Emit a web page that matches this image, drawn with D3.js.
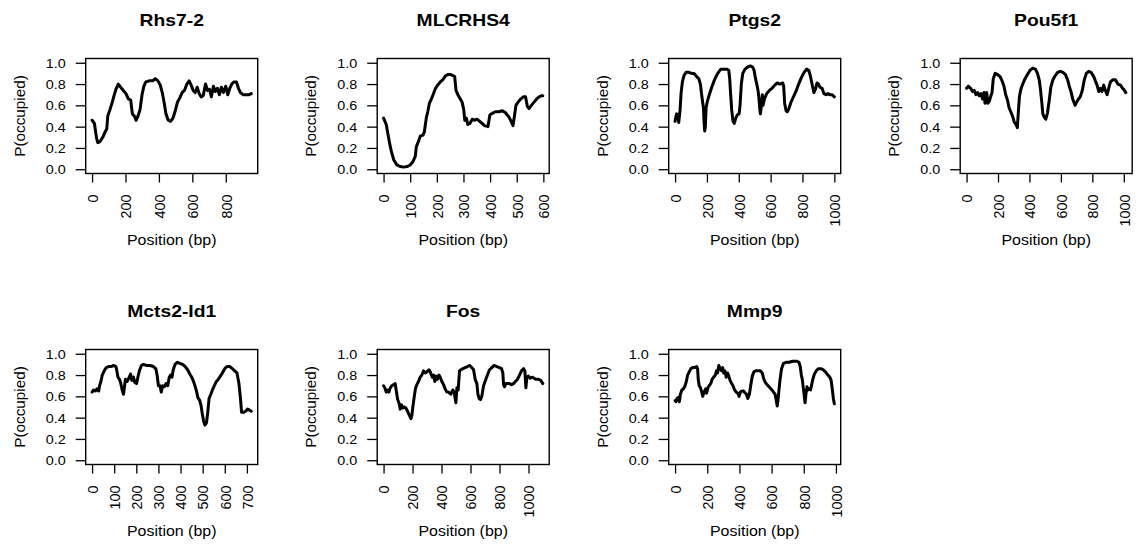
<!DOCTYPE html>
<html>
<head>
<meta charset="utf-8">
<script src="https://cdn.jsdelivr.net/npm/d3@7"></script>
<style>
  html, body { margin: 0; padding: 0; background: #fff; }
  svg { display: block; font-family: "Liberation Sans", Arial, Helvetica, sans-serif; }
</style>
</head>
<body>
<main></main>
<script>
// * values: [position (bp), P(occupied)]
var genes = ['Rhs7-2', 'MLCRHS4', 'Ptgs2', 'Pou5f1', 'Mcts2-Id1', 'Fos', 'Mmp9'];

var rhs72 = [[0,0.46],[14,0.43],[26,0.30],[34,0.25],[48,0.26],[64,0.30],[78,0.35],[88,0.38],[94,0.50],[107,0.56],[121,0.63],[133,0.70],[145,0.76],[157,0.80],[171,0.77],[187,0.74],[203,0.71],[217,0.66],[231,0.65],[241,0.52],[253,0.50],[263,0.46],[275,0.50],[287,0.56],[299,0.70],[310,0.78],[322,0.82],[342,0.83],[362,0.83],[378,0.85],[394,0.83],[408,0.79],[420,0.72],[432,0.62],[442,0.52],[456,0.46],[470,0.45],[484,0.48],[498,0.55],[511,0.63],[525,0.67],[539,0.72],[553,0.74],[567,0.80],[581,0.83],[593,0.79],[605,0.74],[617,0.72],[629,0.77],[641,0.71],[653,0.68],[665,0.69],[679,0.80],[691,0.74],[703,0.75],[714,0.68],[726,0.78],[738,0.73],[750,0.76],[762,0.70],[774,0.77],[786,0.72],[800,0.78],[812,0.70],[824,0.76],[836,0.80],[848,0.82],[864,0.82],[876,0.76],[888,0.72],[903,0.70],[923,0.70],[940,0.70],[953,0.71]];

var mlcrhs4 = [[0,0.48],[10,0.42],[15,0.35],[23,0.24],[29,0.17],[38,0.09],[50,0.04],[63,0.025],[75,0.02],[88,0.025],[100,0.04],[110,0.07],[119,0.12],[123,0.21],[132,0.27],[138,0.31],[148,0.32],[153,0.35],[161,0.49],[166,0.54],[172,0.62],[178,0.65],[186,0.70],[195,0.76],[203,0.79],[213,0.82],[222,0.84],[232,0.875],[241,0.89],[251,0.89],[260,0.88],[267,0.87],[272,0.74],[279,0.70],[286,0.67],[295,0.63],[301,0.56],[305,0.46],[311,0.48],[316,0.42],[324,0.43],[333,0.47],[341,0.46],[351,0.47],[361,0.45],[370,0.43],[379,0.41],[392,0.40],[399,0.51],[408,0.525],[420,0.54],[433,0.54],[446,0.55],[458,0.53],[471,0.49],[479,0.45],[486,0.41],[492,0.51],[497,0.60],[505,0.63],[515,0.66],[525,0.68],[533,0.68],[540,0.59],[546,0.57],[555,0.60],[565,0.63],[575,0.66],[584,0.68],[592,0.69],[598,0.69]];

var ptgs2 = [[0,0.45],[6,0.50],[10,0.52],[17,0.51],[23,0.44],[31,0.55],[38,0.72],[46,0.82],[56,0.88],[69,0.91],[86,0.91],[105,0.90],[119,0.90],[136,0.87],[149,0.85],[159,0.80],[167,0.70],[174,0.62],[178,0.58],[182,0.45],[186,0.36],[190,0.40],[195,0.58],[203,0.64],[215,0.70],[230,0.77],[245,0.83],[257,0.87],[272,0.91],[287,0.94],[308,0.94],[324,0.94],[337,0.93],[343,0.85],[349,0.70],[356,0.55],[364,0.45],[372,0.43],[381,0.48],[391,0.51],[402,0.52],[408,0.60],[416,0.80],[425,0.90],[439,0.94],[456,0.96],[473,0.97],[487,0.96],[496,0.93],[504,0.86],[513,0.80],[521,0.74],[527,0.66],[531,0.58],[536,0.52],[542,0.60],[548,0.70],[552,0.60],[561,0.66],[575,0.71],[592,0.74],[609,0.76],[626,0.79],[642,0.81],[659,0.80],[676,0.81],[682,0.78],[688,0.62],[697,0.55],[705,0.54],[715,0.57],[728,0.63],[743,0.68],[759,0.73],[776,0.80],[793,0.86],[810,0.91],[826,0.94],[839,0.93],[849,0.88],[860,0.80],[872,0.72],[883,0.76],[891,0.81],[900,0.80],[910,0.77],[923,0.76],[935,0.71],[948,0.70],[960,0.71],[973,0.70],[985,0.70],[1000,0.68]];

var pou5f1 = [[0,0.76],[11,0.78],[26,0.76],[38,0.73],[49,0.74],[60,0.70],[70,0.72],[81,0.69],[92,0.71],[102,0.66],[111,0.72],[117,0.62],[128,0.72],[136,0.62],[145,0.64],[153,0.68],[162,0.72],[170,0.85],[181,0.90],[196,0.89],[213,0.87],[226,0.83],[238,0.78],[249,0.70],[260,0.65],[270,0.58],[281,0.54],[292,0.50],[304,0.44],[315,0.42],[323,0.39],[330,0.55],[336,0.68],[345,0.75],[357,0.80],[372,0.85],[387,0.89],[404,0.93],[421,0.95],[438,0.94],[451,0.90],[462,0.84],[470,0.75],[479,0.62],[485,0.52],[494,0.49],[504,0.47],[515,0.53],[526,0.65],[536,0.77],[549,0.84],[564,0.88],[579,0.91],[596,0.92],[613,0.91],[628,0.89],[643,0.84],[653,0.78],[664,0.73],[675,0.66],[690,0.60],[700,0.63],[712,0.66],[723,0.68],[736,0.74],[749,0.84],[762,0.90],[777,0.92],[792,0.91],[809,0.87],[819,0.83],[830,0.79],[841,0.73],[851,0.76],[862,0.73],[872,0.79],[883,0.74],[894,0.70],[904,0.76],[915,0.82],[930,0.84],[947,0.84],[962,0.80],[979,0.79],[992,0.76],[1000,0.75],[1013,0.72]];

var mcts2id1 = [[0,0.64],[7,0.66],[15,0.65],[22,0.67],[30,0.65],[34,0.70],[40,0.74],[46,0.80],[55,0.84],[64,0.87],[75,0.88],[87,0.88],[97,0.89],[108,0.88],[112,0.84],[117,0.78],[124,0.76],[130,0.72],[136,0.66],[142,0.62],[147,0.70],[151,0.76],[159,0.74],[166,0.77],[174,0.81],[180,0.75],[187,0.78],[193,0.73],[201,0.72],[207,0.78],[214,0.84],[223,0.89],[232,0.90],[247,0.89],[262,0.89],[277,0.88],[288,0.86],[294,0.80],[300,0.70],[307,0.70],[313,0.64],[319,0.70],[327,0.69],[334,0.72],[342,0.70],[349,0.78],[355,0.80],[361,0.78],[367,0.85],[375,0.90],[385,0.92],[397,0.91],[409,0.90],[421,0.88],[432,0.85],[442,0.81],[453,0.77],[462,0.72],[472,0.65],[478,0.59],[487,0.56],[493,0.51],[498,0.44],[504,0.37],[510,0.33],[517,0.35],[523,0.45],[529,0.58],[537,0.62],[544,0.66],[553,0.70],[562,0.74],[571,0.76],[580,0.79],[589,0.82],[600,0.86],[610,0.88],[622,0.88],[634,0.86],[645,0.84],[655,0.82],[664,0.72],[670,0.60],[676,0.45],[685,0.45],[694,0.46],[703,0.48],[712,0.47],[720,0.46]];

var fos = [[0,0.70],[9,0.68],[18,0.64],[28,0.66],[37,0.64],[46,0.68],[57,0.70],[69,0.71],[80,0.72],[87,0.66],[97,0.57],[106,0.54],[115,0.48],[124,0.52],[133,0.49],[143,0.50],[154,0.49],[166,0.46],[175,0.43],[189,0.39],[195,0.42],[202,0.50],[212,0.60],[221,0.68],[230,0.71],[241,0.74],[253,0.78],[264,0.80],[276,0.84],[287,0.82],[299,0.83],[313,0.85],[322,0.83],[336,0.78],[345,0.80],[354,0.74],[363,0.79],[372,0.76],[382,0.80],[391,0.78],[402,0.74],[414,0.71],[425,0.67],[437,0.64],[448,0.64],[464,0.62],[478,0.66],[487,0.64],[499,0.54],[506,0.68],[515,0.66],[524,0.84],[533,0.85],[547,0.86],[563,0.87],[579,0.88],[593,0.89],[609,0.87],[621,0.85],[632,0.76],[644,0.72],[651,0.62],[660,0.58],[669,0.57],[678,0.60],[690,0.70],[703,0.75],[717,0.80],[731,0.85],[747,0.87],[763,0.89],[782,0.88],[800,0.87],[814,0.86],[823,0.82],[828,0.71],[834,0.69],[844,0.72],[855,0.72],[869,0.72],[883,0.71],[897,0.72],[910,0.74],[924,0.76],[938,0.80],[952,0.84],[966,0.86],[975,0.84],[982,0.68],[989,0.78],[1000,0.79],[1012,0.77],[1025,0.78],[1039,0.77],[1053,0.76],[1069,0.76],[1085,0.75],[1099,0.72]];

var mmp9 = [[0,0.56],[6,0.55],[12,0.58],[21,0.59],[27,0.55],[33,0.62],[42,0.66],[52,0.67],[62,0.70],[70,0.74],[78,0.80],[88,0.83],[98,0.86],[110,0.87],[122,0.87],[134,0.88],[140,0.86],[144,0.76],[150,0.70],[158,0.68],[166,0.64],[172,0.60],[180,0.64],[190,0.67],[196,0.63],[204,0.68],[212,0.70],[222,0.72],[230,0.76],[240,0.78],[250,0.80],[258,0.84],[264,0.82],[272,0.89],[280,0.86],[288,0.84],[296,0.87],[302,0.82],[310,0.84],[318,0.78],[326,0.82],[334,0.79],[342,0.75],[352,0.72],[360,0.70],[370,0.66],[380,0.64],[390,0.63],[398,0.60],[406,0.64],[416,0.65],[426,0.65],[436,0.63],[444,0.62],[452,0.58],[462,0.62],[470,0.70],[480,0.79],[490,0.83],[502,0.84],[516,0.84],[530,0.84],[542,0.82],[550,0.77],[558,0.74],[566,0.72],[578,0.70],[590,0.68],[602,0.66],[612,0.64],[622,0.62],[628,0.57],[635,0.51],[641,0.58],[646,0.66],[652,0.75],[662,0.86],[674,0.91],[690,0.92],[710,0.92],[730,0.93],[756,0.93],[770,0.92],[778,0.88],[785,0.80],[791,0.76],[797,0.68],[802,0.62],[808,0.54],[814,0.63],[820,0.69],[826,0.66],[834,0.67],[842,0.66],[848,0.70],[856,0.76],[866,0.81],[878,0.84],[890,0.86],[905,0.86],[920,0.85],[935,0.83],[950,0.80],[962,0.78],[970,0.75],[978,0.66],[984,0.58],[990,0.53]];

var series = [rhs72, mlcrhs4, ptgs2, pou5f1, mcts2id1, fos, mmp9];

var xTicks = [
  [0, 200, 400, 600, 800],
  [0, 100, 200, 300, 400, 500, 600],
  [0, 200, 400, 600, 800, 1000],
  [0, 200, 400, 600, 800, 1000],
  [0, 100, 200, 300, 400, 500, 600, 700],
  [0, 200, 400, 600, 800, 1000],
  [0, 200, 400, 600, 800, 1000]
];
var yTicks = [0, 0.2, 0.4, 0.6, 0.8, 1.0];

(function draw() {
  var svg = d3.select('main').append('svg')
    .attr('width', 1136).attr('height', 546)
    .attr('viewBox', '0 0 1136 546');

  // plot region layout (R-like par(mfrow = c(2, 4)))
  var boxW = 172, boxH = 115;
  var left0 = 85.7, top0 = 58.5, pitchX = 291.5, pitchY = 291;

  genes.forEach(function (gene, i) {
    var col = i % 4, row = Math.floor(i / 4);
    var g = svg.append('g')
      .attr('transform', 'translate(' + (left0 + col * pitchX) + ',' + (top0 + row * pitchY) + ')');

    var data = series[i];
    var ext = d3.extent(data, function (d) { return d[0]; });
    var pad = (ext[1] - ext[0]) * 0.04; // * R's default 4% axis extension
    var x = d3.scaleLinear().domain([ext[0] - pad, ext[1] + pad]).range([0, boxW]);
    var y = d3.scaleLinear().domain([-0.04, 1.04]).range([boxH, 0]);

    // y axis
    var ya = g.append('g').attr('class', 'yaxis')
      .call(d3.axisLeft(y).tickValues(yTicks).tickSize(10).tickPadding(10).tickSizeOuter(0)
        .tickFormat(d3.format('.1f')));
    ya.select('.domain').remove();
    ya.selectAll('line').attr('stroke', '#000').attr('stroke-width', 1.3);
    ya.selectAll('text')
      .attr('fill', '#000').attr('font-size', 12.5).attr('dy', '0.36em')
      .each(function () {
        var t = d3.select(this), tx = +t.attr('x');
        t.attr('x', 0).attr('transform', 'translate(' + tx + ',0) scale(1.15,1)');
      });

    // x axis, labels perpendicular (las = 2)
    var xa = g.append('g').attr('class', 'xaxis')
      .attr('transform', 'translate(0,' + boxH + ')')
      .call(d3.axisBottom(x).tickValues(xTicks[i]).tickSize(9).tickSizeOuter(0)
        .tickFormat(d3.format('d')));
    xa.select('.domain').remove();
    xa.selectAll('line').attr('stroke', '#000').attr('stroke-width', 1.3);
    xa.selectAll('text')
      .attr('fill', '#000').attr('font-size', 14.4)
      .attr('text-anchor', 'end')
      .attr('dy', null)
      .attr('x', -21).attr('y', 5.3)
      .attr('transform', 'rotate(-90)');

    // the curve
    var line = d3.line()
      .x(function (d) { return x(d[0]); })
      .y(function (d) { return y(d[1]); });
    g.append('path').datum(data)
      .attr('d', line)
      .attr('fill', 'none').attr('stroke', '#000')
      .attr('stroke-width', 3).attr('stroke-linejoin', 'round').attr('stroke-linecap', 'round');

    // box
    g.append('rect')
      .attr('x', 0).attr('y', 0).attr('width', boxW).attr('height', boxH)
      .attr('fill', 'none').attr('stroke', '#000').attr('stroke-width', 1.4);

    // title
    g.append('text')
      .attr('transform', 'translate(' + boxW / 2 + ',-32.2) scale(1.17,1)')
      .attr('text-anchor', 'middle').attr('font-weight', 'bold').attr('font-size', 16.5)
      .attr('fill', '#000').text(gene);

    // axis titles
    g.append('text')
      .attr('transform', 'translate(' + boxW / 2 + ',' + (boxH + 71) + ') scale(1.1,1)')
      .attr('text-anchor', 'middle').attr('font-size', 14.5)
      .attr('fill', '#000').text('Position (bp)');
    g.append('text')
      .attr('transform', 'translate(-61,' + boxH / 2 + ') rotate(-90)')
      .attr('text-anchor', 'middle').attr('font-size', 15.3)
      .attr('fill', '#000').text('P(occupied)');
  });
})();
</script>
</body>
</html>
